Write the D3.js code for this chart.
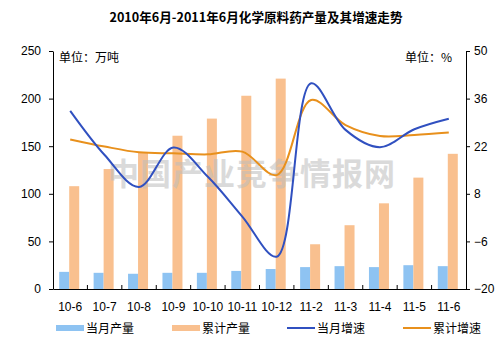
<!DOCTYPE html>
<html><head><meta charset="utf-8">
<script src="https://cdn.jsdelivr.net/npm/d3@7"></script>
<style>
body{margin:0;background:#fff;}
text{font-family:"Liberation Sans",Arial,"Noto Sans CJK SC",sans-serif;}
.cn{font-family:"Noto Sans CJK SC",sans-serif;}
</style></head>
<body><svg id="c" width="503" height="351"></svg>
<script>
const categories = ["10-6","10-7","10-8","10-9","10-10","10-11","10-12","11-2","11-3","11-4","11-5","11-6"];
const monthOutput = [18,17,16,17,17,19,21,23,24,23,25,24];
const cumOutput = [108,126,143,161,179,203,221,47,67,90,117,142];
const monthGrowth = [32.4,19.4,10,21.6,13,1.3,-10.5,40.5,26.8,21.7,27,30.1];
const cumGrowth = [24,21.9,20.2,19.9,19.6,20.4,13.5,35.6,28.2,25,25.3,26];
const leftTicks = [0,50,100,150,200,250];
const rightTicks = [-20,-6,8,22,36,50];

const svg = d3.select("#c");
const L=53,R=466,T=51,B=289;
const x = d3.scaleBand().domain(categories).range([L,R]);
const yL = d3.scaleLinear().domain([0,250]).range([B,T]);
const yR = d3.scaleLinear().domain([-20,50]).range([B,T]);
const bw = 10;

svg.append("text").attr("class","cn").attr("x",256).attr("y",22).attr("text-anchor","middle")
  .attr("font-size",12.6).attr("font-weight","bold").text("2010年6月-2011年6月化学原料药产量及其增速走势");

// bars
svg.append("g").selectAll("rect").data(categories).join("rect")
  .attr("x",d=>x(d)+x.bandwidth()/2-bw-1).attr("width",bw)
  .attr("y",(d,i)=>yL(monthOutput[i])).attr("height",(d,i)=>B-yL(monthOutput[i]))
  .attr("fill","#8EC3F2");
svg.append("g").selectAll("rect").data(categories).join("rect")
  .attr("x",d=>x(d)+x.bandwidth()/2-1).attr("width",bw)
  .attr("y",(d,i)=>yL(cumOutput[i])).attr("height",(d,i)=>B-yL(cumOutput[i]))
  .attr("fill","#F9C08F");

// watermark
svg.append("text").attr("class","cn").attr("x",252).attr("y",185).attr("text-anchor","middle")
  .attr("font-size",31).attr("font-weight","bold").attr("fill","#bdbdbd").attr("opacity",0.55)
  .attr("letter-spacing",1).text("中国产业竞争情报网");

// lines
const line = arr => d3.line().x((d,i)=>x(categories[i])+x.bandwidth()/2).y(d=>yR(d)).curve(d3.curveCatmullRom.alpha(0.5))(arr);
svg.append("path").attr("d",line(cumGrowth)).attr("fill","none").attr("stroke","#E8901C").attr("stroke-width",2);
svg.append("path").attr("d",line(monthGrowth)).attr("fill","none").attr("stroke","#3050C0").attr("stroke-width",2);

// axes
const gl = svg.append("g").attr("transform",`translate(${L},0)`).call(d3.axisLeft(yL).tickValues(leftTicks).tickSize(4).tickSizeOuter(0));
const gr = svg.append("g").attr("transform",`translate(${R},0)`).call(d3.axisRight(yR).tickValues(rightTicks).tickSize(4).tickSizeOuter(0));
const gb = svg.append("g").attr("transform",`translate(0,${B})`).call(d3.axisBottom(x).tickSize(0).tickSizeOuter(0));
[gl,gr,gb].forEach(g=>{g.selectAll("path,line").attr("stroke","#000");g.selectAll("text").attr("font-size",12).attr("fill","#000").attr("font-family","Liberation Sans, Arial, sans-serif");});
gl.selectAll("text").attr("x",-12);
gr.selectAll("text").attr("x",8);
gb.selectAll("text").attr("dy","1.6em");
// category boundary ticks (inward)
svg.append("g").selectAll("line").data(categories.slice(1)).join("line")
  .attr("x1",d=>x(d)).attr("x2",d=>x(d)).attr("y1",B).attr("y2",B-4).attr("stroke","#000");

svg.append("text").attr("class","cn").attr("x",59).attr("y",62).attr("font-size",12).text("单位：万吨");
svg.append("text").attr("class","cn").attr("x",452).attr("y",62).attr("font-size",12).attr("text-anchor","end").text("单位：%");

// legend
const lg = svg.append("g");
const items = [
  {t:"当月产量",type:"rect",c:"#8EC3F2",x:56},
  {t:"累计产量",type:"rect",c:"#F9C08F",x:172},
  {t:"当月增速",type:"line",c:"#3050C0",x:287},
  {t:"累计增速",type:"line",c:"#E8901C",x:403}];
items.forEach(it=>{
  if(it.type==="rect") lg.append("rect").attr("x",it.x).attr("y",325).attr("width",28).attr("height",6).attr("fill",it.c);
  else lg.append("line").attr("x1",it.x).attr("x2",it.x+28).attr("y1",328).attr("y2",328).attr("stroke",it.c).attr("stroke-width",2);
  lg.append("text").attr("class","cn").attr("x",it.x+30).attr("y",333).attr("font-size",12).text(it.t);
});
</script></body></html>
